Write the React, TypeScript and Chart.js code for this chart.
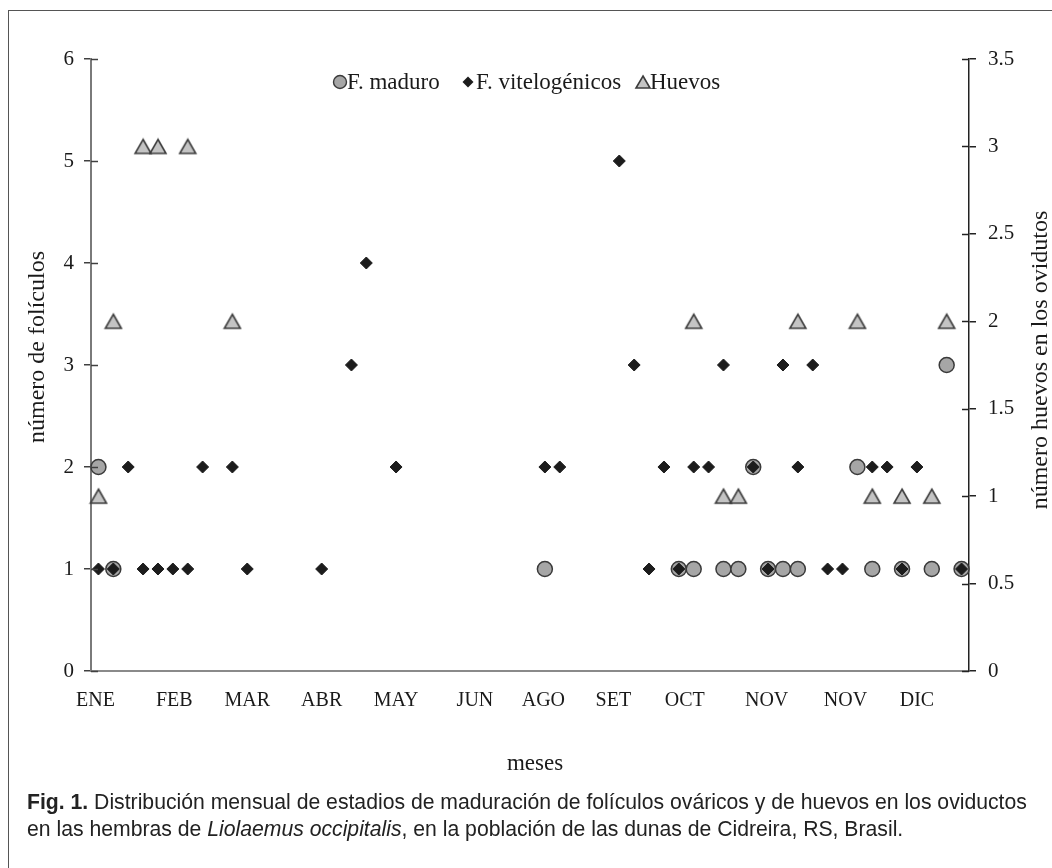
import React, { useEffect, useRef } from "react";
import { Chart, registerables } from "chart.js";

Chart.register(...registerables);

// ---- data (x = specimen position along the horizontal axis) ----
const maduroX = [1, 2, 31, 40, 41, 43, 44, 45, 46, 47, 48, 52, 53, 55, 57, 58, 59];
const maduroY = [2, 1, 1, 1, 1, 1, 1, 2, 1, 1, 1, 2, 1, 1, 1, 3, 1];

const viteloX = [1, 2, 3, 4, 5, 6, 7, 8, 10, 11, 16, 18, 19, 21, 31, 32, 36, 37, 38, 39, 40, 41, 42, 43, 45, 46, 47, 48, 49, 50, 51, 53, 54, 55, 56, 59];
const viteloY = [1, 1, 2, 1, 1, 1, 1, 2, 2, 1, 1, 3, 4, 2, 2, 2, 5, 3, 1, 2, 1, 2, 2, 3, 2, 1, 3, 2, 3, 1, 1, 2, 2, 1, 2, 1];

const huevosX = [1, 2, 4, 5, 7, 10, 41, 43, 44, 48, 52, 53, 55, 57, 58];
const huevosY = [1, 2, 3, 3, 3, 2, 2, 1, 1, 2, 2, 1, 1, 1, 2];

const monthLabels = ["ENE", "FEB", "MAR", "ABR", "MAY", "JUN", "AGO", "SET", "OCT", "NOV", "NOV", "DIC"];
const monthTickPos = [0.8, 6.1, 11.0, 16.0, 21.0, 26.3, 30.9, 35.6, 40.4, 45.9, 51.2, 56.0];

const seriesNames = ["F. maduro", "F. vitelogénicos", "Huevos"];
const leftTitle = "número de folículos";
const rightTitle = "número huevos en los ovidutos";
const xTitle = "meses";

const SERIF = '"Liberation Serif", "Times New Roman", serif';
const SANS = '"Liberation Sans", Arial, sans-serif';

function makeTriangle(w: number, h: number): HTMLCanvasElement {
  const c = document.createElement("canvas");
  c.width = w + 4;
  c.height = h + 4;
  const g = c.getContext("2d")!;
  const cx = c.width / 2;
  const cy = c.height / 2;
  g.beginPath();
  g.moveTo(cx, cy - h / 2);
  g.lineTo(cx + w / 2, cy + h / 2);
  g.lineTo(cx - w / 2, cy + h / 2);
  g.closePath();
  g.fillStyle = "#c4c4c4";
  g.fill();
  g.lineWidth = 1.6;
  g.strokeStyle = "#3c3c3c";
  g.stroke();
  return c;
}

export default function App() {
  const ref = useRef<HTMLCanvasElement | null>(null);

  useEffect(() => {
    if (!ref.current) return;
    const tri = makeTriangle(16, 14);
    const triSmall = makeTriangle(14, 12);

    const decor = {
      id: "decor",
      afterDraw(chart: any) {
        const ctx = chart.ctx as CanvasRenderingContext2D;
        const { left, right } = chart.chartArea;
        const y = chart.scales.y;
        const y2 = chart.scales.y2;
        ctx.save();
        // inner halves of the crossing tick marks
        ctx.lineWidth = 1.5;
        ctx.strokeStyle = "#404040";
        y.ticks.forEach((t: any) => {
          const p = Math.round(y.getPixelForValue(t.value)) + 0.5;
          ctx.beginPath();
          ctx.moveTo(left, p);
          ctx.lineTo(left + 7, p);
          ctx.stroke();
        });
        ctx.strokeStyle = "#222";
        y2.ticks.forEach((t: any) => {
          const p = Math.round(y2.getPixelForValue(t.value)) + 0.5;
          ctx.beginPath();
          ctx.moveTo(right - 7, p);
          ctx.lineTo(right, p);
          ctx.stroke();
        });

        // legend
        const ly = 82;
        ctx.font = `23px ${SERIF}`;
        ctx.textBaseline = "middle";
        ctx.textAlign = "left";
        ctx.beginPath();
        ctx.arc(340, ly, 6.5, 0, Math.PI * 2);
        ctx.fillStyle = "#a6a6a6";
        ctx.fill();
        ctx.lineWidth = 1.4;
        ctx.strokeStyle = "#3a3a3a";
        ctx.stroke();
        ctx.fillStyle = "#1a1a1a";
        ctx.fillText(seriesNames[0], 347, ly + 1);
        ctx.beginPath();
        ctx.moveTo(468 - 5.5, ly);
        ctx.lineTo(468, ly - 5.5);
        ctx.lineTo(468 + 5.5, ly);
        ctx.lineTo(468, ly + 5.5);
        ctx.closePath();
        ctx.fillStyle = "#1c1c1c";
        ctx.fill();
        ctx.fillStyle = "#1a1a1a";
        ctx.fillText(seriesNames[1], 476, ly + 1);
        ctx.drawImage(triSmall, 643 - triSmall.width / 2, ly - triSmall.height / 2);
        ctx.fillText(seriesNames[2], 650, ly + 1);

        // axis titles
        ctx.font = `24px ${SERIF}`;
        ctx.textAlign = "center";
        ctx.textBaseline = "middle";
        ctx.save();
        ctx.translate(38, 347);
        ctx.rotate(-Math.PI / 2);
        ctx.fillText(leftTitle, 0, 0);
        ctx.restore();
        ctx.save();
        ctx.translate(1041, 360);
        ctx.rotate(-Math.PI / 2);
        ctx.fillText(rightTitle, 0, 0);
        ctx.restore();
        ctx.font = `23px ${SERIF}`;
        ctx.fillText(xTitle, 535, 764);
        ctx.restore();
      },
    };

    const chart = new Chart(ref.current, {
      type: "scatter",
      data: {
        datasets: [
          {
            label: seriesNames[0],
            data: maduroX.map((x, i) => ({ x, y: maduroY[i] })),
            yAxisID: "y",
            pointStyle: "circle",
            pointRadius: 7.5,
            backgroundColor: "#a6a6a6",
            borderColor: "#3a3a3a",
            borderWidth: 1.5,
            order: 2,
            clip: false,
          },
          {
            label: seriesNames[1],
            data: viteloX.map((x, i) => ({ x, y: viteloY[i] })),
            yAxisID: "y",
            pointStyle: "rectRot",
            pointRadius: 6,
            backgroundColor: "#1c1c1c",
            borderColor: "#1c1c1c",
            borderWidth: 1,
            order: 1,
            clip: false,
          },
          {
            label: seriesNames[2],
            data: huevosX.map((x, i) => ({ x, y: huevosY[i] })),
            yAxisID: "y2",
            pointStyle: tri as any,
            pointRadius: 9,
            order: 3,
            clip: false,
          },
        ],
      },
      options: {
        animation: false,
        responsive: false,
        layout: { padding: { top: 59, left: 0, right: 0, bottom: 0 } },
        plugins: { legend: { display: false }, tooltip: { enabled: false } },
        scales: {
          x: {
            type: "linear",
            position: "bottom",
            min: 0.5,
            max: 59.5,
            afterBuildTicks: (s: any) => {
              s.ticks = monthTickPos.map((v) => ({ value: v }));
            },
            afterFit: (s: any) => {
              s.height = 197;
            },
            grid: { display: false, drawTicks: false },
            border: { display: true, color: "#8a8a8a", width: 2 },
            ticks: {
              autoSkip: false,
              maxRotation: 0,
              padding: 18,
              color: "#1a1a1a",
              font: { family: SERIF, size: 20 },
              callback: (_v: any, i: number) => monthLabels[i],
            },
          },
          y: {
            position: "left",
            min: 0,
            max: 6,
            afterFit: (s: any) => {
              s.width = 91;
            },
            ticks: {
              stepSize: 1,
              padding: 10,
              color: "#1a1a1a",
              font: { family: SERIF, size: 21 },
              callback: (v: any) => String(+v),
            },
            grid: { drawOnChartArea: false, drawTicks: true, tickLength: 7, color: "#404040", lineWidth: 1.5 },
            border: { display: true, color: "#7a7a7a", width: 2 },
          },
          y2: {
            position: "right",
            min: 0,
            max: 3.5,
            afterFit: (s: any) => {
              s.width = 83;
            },
            ticks: {
              stepSize: 0.5,
              padding: 12,
              color: "#1a1a1a",
              font: { family: SERIF, size: 21 },
              callback: (v: any) => String(+v),
            },
            grid: { drawOnChartArea: false, drawTicks: true, tickLength: 7, color: "#222", lineWidth: 1.5 },
            border: { display: true, color: "#222", width: 1.5 },
          },
        },
      },
      plugins: [decor],
    });
    return () => chart.destroy();
  }, []);

  return (
    <div style={{ position: "absolute", left: 0, top: 0, width: 1052, height: 868, background: "#fff", overflow: "hidden" }}>
      <canvas ref={ref} width={1052} height={868} style={{ position: "absolute", left: 0, top: 0 }} />
      <div
        style={{
          position: "absolute",
          left: 8,
          top: 10,
          width: 1100,
          height: 900,
          borderTop: "1.5px solid #555",
          borderLeft: "1.5px solid #555",
          pointerEvents: "none",
        }}
      />
      <div
        style={{
          position: "absolute",
          left: 27,
          top: 788,
          fontFamily: SANS,
          fontSize: 21.2,
          lineHeight: "27px",
          color: "#222",
          whiteSpace: "nowrap",
        }}
      >
        <b>Fig. 1.</b> Distribución mensual de estadios de maduración de folículos ováricos y de huevos en los oviductos
        <br />
        en las hembras de <i>Liolaemus occipitalis</i>, en la población de las dunas de Cidreira, RS, Brasil.
      </div>
    </div>
  );
}
